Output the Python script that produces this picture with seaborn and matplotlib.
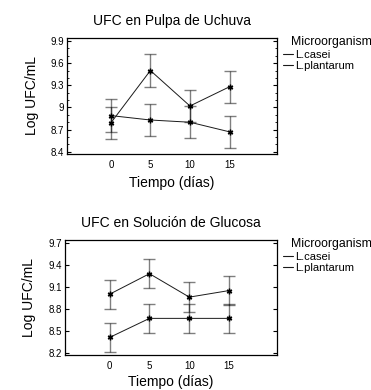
import numpy as np
import pandas as pd
import matplotlib
matplotlib.use("Agg")
import matplotlib.pyplot as plt
from matplotlib.ticker import MultipleLocator, FuncFormatter
import seaborn as sns

sns.set_style("white")
plt.rcParams['font.family'] = ['Liberation Sans', 'DejaVu Sans']
plt.rcParams['text.color'] = 'black'
plt.rcParams['axes.labelcolor'] = 'black'
plt.rcParams['xtick.color'] = 'black'
plt.rcParams['ytick.color'] = 'black'

# ---- data ----
dias = [0, 5, 10, 15]
series = ["L.casei", "L.plantarum"]

uchuva_casei = [8.79, 9.50, 9.02, 9.28]
uchuva_plantarum = [8.89, 8.83, 8.80, 8.67]
uchuva_err = [0.22, 0.22, 0.22, 0.22]

glucosa_casei = [9.00, 9.28, 8.96, 9.05]
glucosa_plantarum = [8.41, 8.67, 8.67, 8.67]
glucosa_err = [0.20, 0.20, 0.20, 0.20]

titles = ["UFC en Pulpa de Uchuva", "UFC en Solución de Glucosa"]
legend_title = "Microorganism"
yticks_uchuva = [8.4, 8.7, 9.0, 9.3, 9.6, 9.9]
yticks_glucosa = [8.2, 8.5, 8.8, 9.1, 9.4, 9.7]
xticks = [0, 5, 10, 15]


def make_df(a, b):
    return pd.DataFrame({
        "Tiempo": dias * 2,
        "Log": a + b,
        "Microorganism": [series[0]] * len(dias) + [series[1]] * len(dias),
    })


fig = plt.figure(figsize=(3.71, 3.90), dpi=100)
ax1 = fig.add_axes([66.5 / 371, 1 - 154 / 390, (277 - 66.5) / 371, (154 - 38) / 390])
ax2 = fig.add_axes([65 / 371, 1 - 355 / 390, (277 - 65) / 371, (355 - 240) / 390])

panels = [
    (ax1, make_df(uchuva_casei, uchuva_plantarum), uchuva_err, yticks_uchuva, (8.37, 9.94), True, 8, 5),
    (ax2, make_df(glucosa_casei, glucosa_plantarum), glucosa_err, yticks_glucosa, (8.17, 9.74), False, 9, 3.5),
]

for i, (ax, df, err, yt, ylim, minor, ylpad, xlpad) in enumerate(panels):
    for name in series:
        sub = df[df["Microorganism"] == name]
        ax.errorbar(sub["Tiempo"], sub["Log"], yerr=err, fmt="none",
                    ecolor="black", alpha=0.5, elinewidth=1.0, capsize=4.5,
                    capthick=1.0, zorder=2)
    sns.lineplot(data=df, x="Tiempo", y="Log", hue="Microorganism",
                 palette=["#1a1a1a", "#1a1a1a"], marker=(6, 2, 0), markersize=4,
                 markeredgewidth=1.0, markeredgecolor="black",
                 linewidth=0.7, ax=ax, zorder=3, legend=True)
    ax.set_xlim(-5.6, 21)
    ax.set_ylim(*ylim)
    ax.set_xticks(xticks)
    ax.set_yticks(yt)
    ax.yaxis.set_major_formatter(FuncFormatter(lambda v, p: "%g" % round(v, 1)))
    if minor:
        ax.yaxis.set_minor_locator(MultipleLocator(0.1))
    ax.tick_params(axis="y", which="major", direction="in", length=3, width=0.8,
                   left=True, right=True, labelsize=7, pad=2)
    ax.tick_params(axis="y", which="minor", direction="in", length=1.5, width=0.6,
                   left=True, right=True)
    ax.tick_params(axis="x", which="both", length=0, labelsize=7, pad=4)
    for s in ax.spines.values():
        s.set_visible(True)
        s.set_color("black")
        s.set_linewidth(0.9)
    ax.set_xlabel("Tiempo (días)", fontsize=10, labelpad=xlpad)
    ax.set_ylabel("Log UFC/mL", fontsize=10, labelpad=ylpad)
    ax.set_title(titles[i], fontsize=10, pad=9.5)
    h, l = ax.get_legend_handles_labels()
    leg = ax.legend(h, l, loc="upper left",
                    bbox_to_anchor=(1.03, 0.895), frameon=False, fontsize=8,
                    handlelength=0.9, handletextpad=0.2,
                    labelspacing=0.05, borderpad=0, borderaxespad=0)
    for lh in leg.get_lines():
        lh.set_marker("")
        lh.set_linewidth(0.8)
    ax.text(1.067, 0.962, legend_title, transform=ax.transAxes, fontsize=8.8,
            ha="left", va="center")

fig.savefig("out.png", dpi=100)
